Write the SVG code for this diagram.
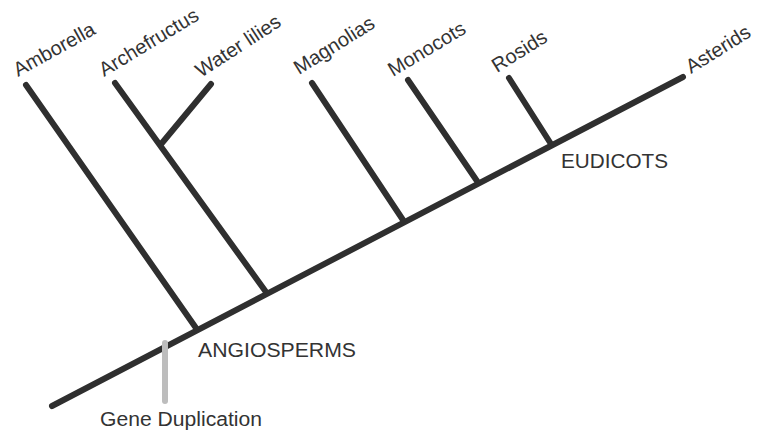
<svg xmlns="http://www.w3.org/2000/svg" width="760" height="434" viewBox="0 0 760 434">
<style>
.br{stroke:#2f2f2f;stroke-width:6;stroke-linecap:round;fill:none}
.gd{stroke:#bdbdbd;stroke-width:6;stroke-linecap:round;fill:none}
.lb{font-family:"Liberation Sans",Arial,sans-serif;font-size:20px;fill:#333}
.hl{font-family:"Liberation Sans",Arial,sans-serif;font-size:19.5px;fill:#333}
</style>
<rect width="760" height="434" fill="#fff"/>
<g id="connectors">
<line class="br" x1="52" y1="406" x2="683" y2="77"/>
<line class="br" x1="26" y1="85" x2="196" y2="328"/>
<line class="br" x1="115" y1="83" x2="266" y2="292"/>
<line class="br" x1="211" y1="84" x2="162" y2="143"/>
<line class="br" x1="312" y1="83" x2="403" y2="220"/>
<line class="br" x1="408" y1="80" x2="477" y2="181"/>
<line class="br" x1="509" y1="78" x2="551" y2="144"/>
<line class="gd" x1="165" y1="343" x2="165" y2="401"/>
</g>
<g id="amborella"><text class="lb" transform="translate(18,77) rotate(-29)">Amborella</text></g>
<g id="archefructus"><text class="lb" transform="translate(104,77) rotate(-31)">Archefructus</text></g>
<g id="water-lilies"><text class="lb" transform="translate(201,78) rotate(-33)">Water lilies</text></g>
<g id="magnolias"><text class="lb" transform="translate(299,75) rotate(-32)">Magnolias</text></g>
<g id="monocots"><text class="lb" transform="translate(393,77) rotate(-31)">Monocots</text></g>
<g id="rosids"><text class="lb" transform="translate(497,73) rotate(-32)">Rosids</text></g>
<g id="asterids"><text class="lb" transform="translate(691,74) rotate(-32)">Asterids</text></g>
<g id="angiosperms"><text class="hl" x="198" y="357" textLength="158" lengthAdjust="spacingAndGlyphs">ANGIOSPERMS</text></g>
<g id="eudicots"><text class="hl" x="561" y="168" textLength="107" lengthAdjust="spacingAndGlyphs">EUDICOTS</text></g>
<g id="gene-duplication"><text class="hl" x="100" y="426" textLength="162" lengthAdjust="spacingAndGlyphs">Gene Duplication</text></g>
</svg>
